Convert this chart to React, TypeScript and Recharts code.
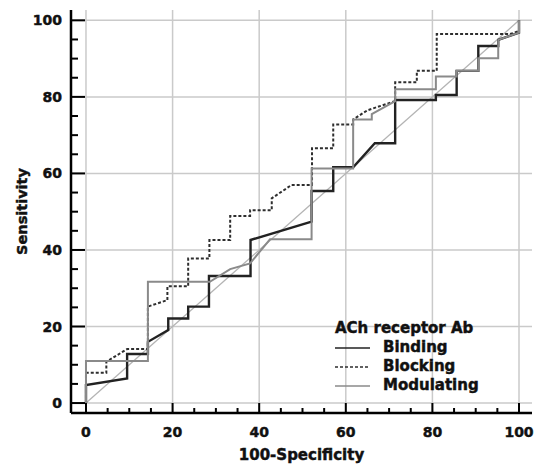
import { LineChart, Line, XAxis, YAxis, ReferenceLine, Legend } from "recharts"

// ROC points (100-Specificity, Sensitivity)
const bindingX = [0, 0, 9.5, 9.5, 14.3, 14.3, 19.0, 19.0, 23.6, 23.6, 28.4, 28.4, 38.0, 38.0, 52.1, 52.1, 57.1, 57.1, 61.7, 66.7, 71.4, 71.4, 80.8, 80.8, 85.6, 85.6, 90.6, 90.6, 95.2, 95.2, 100, 100]
const bindingY = [0, 4.7, 6.4, 12.8, 12.8, 16.0, 19.1, 22.1, 22.1, 25.2, 25.2, 33.2, 33.2, 42.6, 47.4, 55.4, 55.4, 61.6, 61.6, 67.9, 67.9, 79.2, 79.2, 80.5, 80.5, 86.8, 86.8, 93.3, 93.3, 94.9, 96.8, 100]

const blockingX = [0, 0, 4.7, 4.7, 9.5, 14.3, 14.3, 18.8, 18.8, 23.6, 23.6, 28.5, 28.5, 33.3, 33.3, 37.9, 37.9, 42.9, 42.9, 47.5, 52.2, 52.2, 57.1, 57.1, 61.7, 61.7, 65.0, 71.4, 71.4, 76.4, 76.4, 81.0, 81.0, 97.9, 100, 100]
const blockingY = [0, 7.9, 7.9, 10.8, 14.1, 14.1, 25.2, 26.9, 30.5, 30.5, 37.8, 37.8, 42.6, 42.6, 48.9, 48.9, 50.4, 50.4, 53.5, 57.0, 57.0, 66.6, 66.6, 72.8, 72.8, 74.1, 76.5, 78.9, 83.8, 83.8, 86.8, 86.8, 96.4, 96.4, 97.2, 100]

const modulatingX = [0, 0, 14.3, 14.3, 28.6, 33.3, 37.9, 42.5, 52.1, 52.1, 61.7, 61.7, 66.0, 66.0, 71.4, 71.4, 80.8, 80.8, 85.6, 85.6, 90.6, 90.6, 95.2, 95.2, 100, 100]
const modulatingY = [0, 11.0, 11.0, 31.7, 31.7, 35.0, 36.5, 42.8, 42.8, 61.3, 61.3, 74.1, 74.1, 75.5, 78.9, 82.0, 82.0, 85.3, 85.3, 86.8, 86.8, 90.1, 90.1, 94.9, 96.8, 100]

const axisTicks = [0, 5, 10, 15, 20, 25, 30, 35, 40, 45, 50, 55, 60, 65, 70, 75, 80, 85, 90, 95, 100]
const gridValues = [0, 20, 40, 60, 80, 100]

const toPoints = (xs: number[], ys: number[]) => xs.map((x, i) => ({ x, y: ys[i] }))

const series = [
  { name: "Binding", data: toPoints(bindingX, bindingY), stroke: "#222", width: 2.4, dash: undefined },
  { name: "Blocking", data: toPoints(blockingX, blockingY), stroke: "#2e2e2e", width: 2, dash: "3 2" },
  { name: "Modulating", data: toPoints(modulatingX, modulatingY), stroke: "#8a8a8a", width: 2, dash: undefined },
]

const FONT = "'DejaVu Sans', sans-serif"
// heavier text, the original uses a black-weight face
const textStyle = { fontFamily: FONT, fontWeight: 700, fill: "#111", stroke: "#111", strokeWidth: 0.45 }

const XTick = (props: any) => {
  const { x, y, payload } = props
  const major = payload.value % 20 === 0
  return (
    <g>
      <line x1={x} x2={x} y1={y} y2={y - (major ? 10 : 5)} stroke="#000" strokeWidth={2} />
      {major && (
        <text x={x} y={y + 24} textAnchor="middle" fontSize={14} style={textStyle}>
          {payload.value}
        </text>
      )}
    </g>
  )
}

const YTick = (props: any) => {
  const { x, y, payload } = props
  const major = payload.value % 20 === 0
  return (
    <g>
      <line x1={x} x2={x + (major ? 14 : 7)} y1={y} y2={y} stroke="#000" strokeWidth={2} />
      {major && (
        <text x={x - 9} y={y} dy="0.36em" textAnchor="end" fontSize={14} style={textStyle}>
          {payload.value}
        </text>
      )}
    </g>
  )
}

const LegendBox = () => (
  <div
    style={{
      fontFamily: FONT,
      fontWeight: 700,
      fontSize: 15,
      lineHeight: "19px",
      color: "#111",
      WebkitTextStroke: "0.45px #111",
      whiteSpace: "nowrap",
    }}
  >
    <div style={{ paddingLeft: 5 }}>ACh receptor Ab</div>
    {series.map((s) => (
      <div key={s.name} style={{ display: "flex", alignItems: "flex-start", height: 19 }}>
        <svg width={53} height={19} style={{ display: "block" }}>
          <line x1={5} x2={40} y1={10} y2={10} stroke={s.stroke} strokeWidth={1.6} strokeDasharray={s.dash} />
        </svg>
        <span>{s.name}</span>
      </div>
    ))}
  </div>
)

export default function App() {
  return (
    <div style={{ position: "absolute", left: 0, top: 0, background: "#fff" }}>
      <LineChart width={542} height={465} margin={{ top: 10, right: 10, left: 8, bottom: 0 }}>
        {gridValues.map((v) => (
          <ReferenceLine key={"gx" + v} x={v} stroke="#cacaca" strokeWidth={1.5} />
        ))}
        {gridValues.map((v) => (
          <ReferenceLine key={"gy" + v} y={v} stroke="#cacaca" strokeWidth={1.5} />
        ))}
        <ReferenceLine
          segment={[
            { x: 0, y: 0 },
            { x: 100, y: 100 },
          ]}
          stroke="#b4b4b4"
          strokeWidth={1.3}
        />
        <XAxis
          type="number"
          dataKey="x"
          domain={[-3.46, 103]}
          allowDataOverflow
          ticks={axisTicks}
          interval={0}
          tickLine={false}
          tickSize={0}
          tickMargin={0}
          tick={<XTick />}
          height={52}
          axisLine={{ stroke: "#000", strokeWidth: 2.5 }}
          label={{ value: "100-Specificity", position: "insideBottom", offset: 5, fontSize: 15, style: textStyle }}
        />
        <YAxis
          type="number"
          domain={[-2.6, 102.7]}
          allowDataOverflow
          ticks={axisTicks}
          interval={0}
          tickLine={false}
          tickSize={0}
          tickMargin={0}
          tick={<YTick />}
          width={63}
          axisLine={{ stroke: "#000", strokeWidth: 2.5 }}
          label={{
            value: "Sensitivity",
            angle: -90,
            position: "insideLeft",
            offset: 14,
            fontSize: 14.5,
            style: { ...textStyle, textAnchor: "middle" },
          }}
        />
        {series.map((s) => (
          <Line
            key={s.name}
            name={s.name}
            data={s.data}
            dataKey="y"
            type="linear"
            stroke={s.stroke}
            strokeWidth={s.width}
            strokeDasharray={s.dash}
            dot={false}
            activeDot={false}
            isAnimationActive={false}
          />
        ))}
        <Legend
          layout="vertical"
          align="center"
          verticalAlign="middle"
          content={<LegendBox />}
          wrapperStyle={{ left: 330, top: 319, width: "auto" }}
        />
      </LineChart>
    </div>
  )
}
